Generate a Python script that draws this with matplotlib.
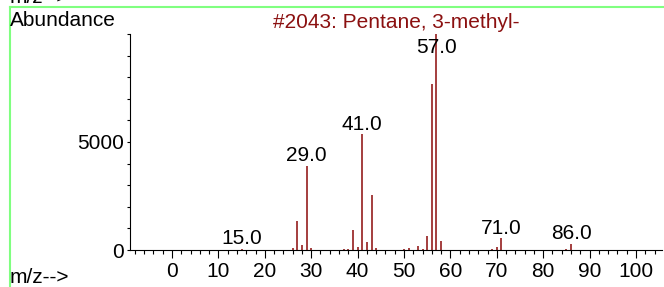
import matplotlib
matplotlib.use('Agg')
import matplotlib.pyplot as plt
from matplotlib.ticker import MultipleLocator, FixedLocator
from matplotlib.lines import Line2D

plt.rcParams['font.family'] = ['Liberation Sans', 'DejaVu Sans']

# spectrum
mz = [15, 26, 27, 28, 29, 30, 37, 38, 39, 40, 41, 42, 43, 44,
      50, 51, 53, 54, 55, 56, 57, 58, 69, 70, 71, 85, 86, 87]
abundance = [60, 100, 1320, 215, 3900, 75, 30, 60, 925, 120, 5350, 355, 2550, 75,
             45, 80, 185, 60, 660, 7700, 10000, 430, 45, 140, 540, 60, 293, 20]
labelled = [15, 29, 41, 57, 71, 86]
title = "#2043: Pentane, 3-methyl-"

W, H = 664, 287
fig = plt.figure(figsize=(W / 100, H / 100), dpi=100)
ax = fig.add_axes([130 / W, 37 / H, 532 / W, 216 / H])

bar_col = '#8b0a0a'
ax.vlines(mz, 0, abundance, colors=bar_col, linewidth=1.1)

ax.set_xlim(-9.05, 105.6)
ax.set_ylim(0, 10000)

for s in ('top', 'right'):
    ax.spines[s].set_visible(False)
for s in ('left', 'bottom'):
    ax.spines[s].set_linewidth(0.8)

ax.xaxis.set_major_locator(MultipleLocator(10))
ax.xaxis.set_minor_locator(MultipleLocator(2))
ax.yaxis.set_major_locator(FixedLocator([0, 5000]))
ax.yaxis.set_minor_locator(MultipleLocator(1000))
ax.tick_params(axis='x', which='major', length=5.5, width=0.8, pad=3.4, labelsize=15)
ax.tick_params(axis='x', which='minor', length=2.9, width=0.8)
ax.tick_params(axis='y', which='both', length=2.2, width=0.8, pad=2, labelsize=15)

# peak labels sit just above the stick, kept inside the plot
label_cap = 8900
for m, a in zip(mz, abundance):
    if m in labelled:
        ax.annotate(f"{m:.1f}", xy=(m, min(a, label_cap)), xytext=(0, 4.5),
                    textcoords='offset pixels', ha='center', va='baseline',
                    fontsize=15, color='black')

fig.text((130 + 266) / W, 1 - 28 / H, title, color='#8b1010', fontsize=15,
         ha='center', va='baseline')
fig.text(10 / W, 1 - 26 / H, "Abundance", fontsize=15, ha='left', va='baseline')
fig.text(10 / W, 1 - 283 / H, "m/z-->", fontsize=15, ha='left', va='baseline')
# the top one is clipped by the page edge, as in the original
fig.text(10 / W, 1 - 3 / H, "m/z-->", fontsize=15, ha='left', va='baseline')

green = '#80ff80'
fig.add_artist(Line2D([9.5 / W, 1], [1 - 6.5 / H, 1 - 6.5 / H], color=green,
                      linewidth=1.5, transform=fig.transFigure))
fig.add_artist(Line2D([9.5 / W, 9.5 / W], [0, 1 - 6.5 / H], color=green,
                      linewidth=1.5, transform=fig.transFigure))

fig.savefig('out.png', dpi=100)
